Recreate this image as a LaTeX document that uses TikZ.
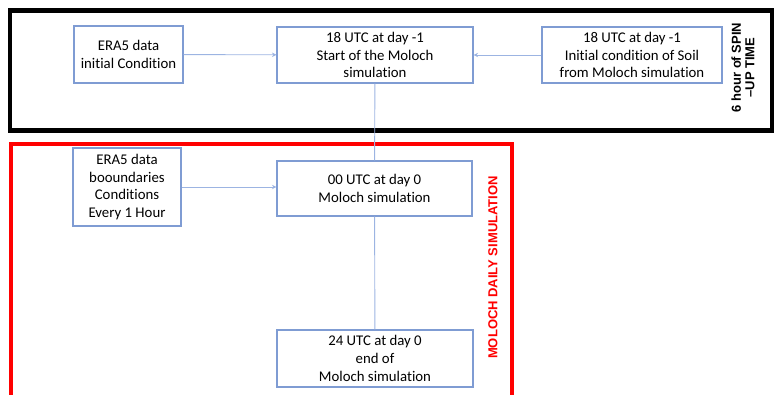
\documentclass[tikz,border=0pt]{standalone}
\usepackage{fontspec}
\setmainfont{Carlito}[Ligatures={NoCommon}]
\newfontfamily\arialb{Liberation Sans}[UprightFont=* Bold]
\usetikzlibrary{arrows.meta}
\definecolor{boxblue}{HTML}{7F9CD3}
\definecolor{lineblue}{HTML}{9CB4E2}
\begin{document}
\begin{tikzpicture}[x=1pt,y=-1pt,
  box/.style={draw=boxblue,line width=1.1pt,fill=white,align=center,inner sep=0pt,
    font=\fontsize{14.8}{17.7}\selectfont},
  conn/.style={draw=lineblue,line width=0.9pt},
  arr/.style={conn,-{Stealth[length=4.5pt,width=4.5pt]}},
  sidelabel/.style={rotate=90,align=center,font=\arialb\fontsize{13}{12}\selectfont}]
\useasboundingbox (0,0) rectangle (774,394);
\clip (0,0) rectangle (774,394);
% frames
\draw[line width=4.5pt,black] (10,10.5) rectangle (772,130.5);
\draw[line width=4pt,red] (10.5,143.5) rectangle (511.5,420);
% boxes
\node[box,minimum width=109pt,minimum height=57pt] (era5i) at (128.5,54.5) {ERA5 data\\initial Condition};
\node[box,minimum width=196pt,minimum height=56pt] (start) at (375,55) {18 UTC at day -1\\Start of the Moloch\\simulation};
\node[box,minimum width=180pt,minimum height=56pt] (soil) at (632,55) {18 UTC at day -1\\Initial condition of Soil\\from Moloch simulation};
\node[box,minimum width=108pt,minimum height=78pt] (era5b) at (127,187) {ERA5 data\\booundaries\\Conditions\\Every 1 Hour};
\node[box,minimum width=195pt,minimum height=55pt] (d0) at (374.5,188.5) {00 UTC at day 0\\Moloch simulation};
\node[box,minimum width=196pt,minimum height=57pt] (d24) at (375,358.5) {24 UTC at day 0\\end of\\Moloch simulation};
% side labels
\node[sidelabel] (spin) at (743,67.5) {6 hour of SPIN\\[1.5pt]–UP TIME};
\node[sidelabel,text=red] (daily) at (493,267.5) {MOLOCH DAILY SIMULATION};
% connectors
\draw[arr] (era5i) -- (start);
\draw[arr] (soil) -- (start);
\draw[conn] (start) -- (d0);
\draw[conn] (d0) -- (d24);
\draw[arr] (era5b.east) -- (d0.west |- era5b.east);
\end{tikzpicture}
\end{document}
